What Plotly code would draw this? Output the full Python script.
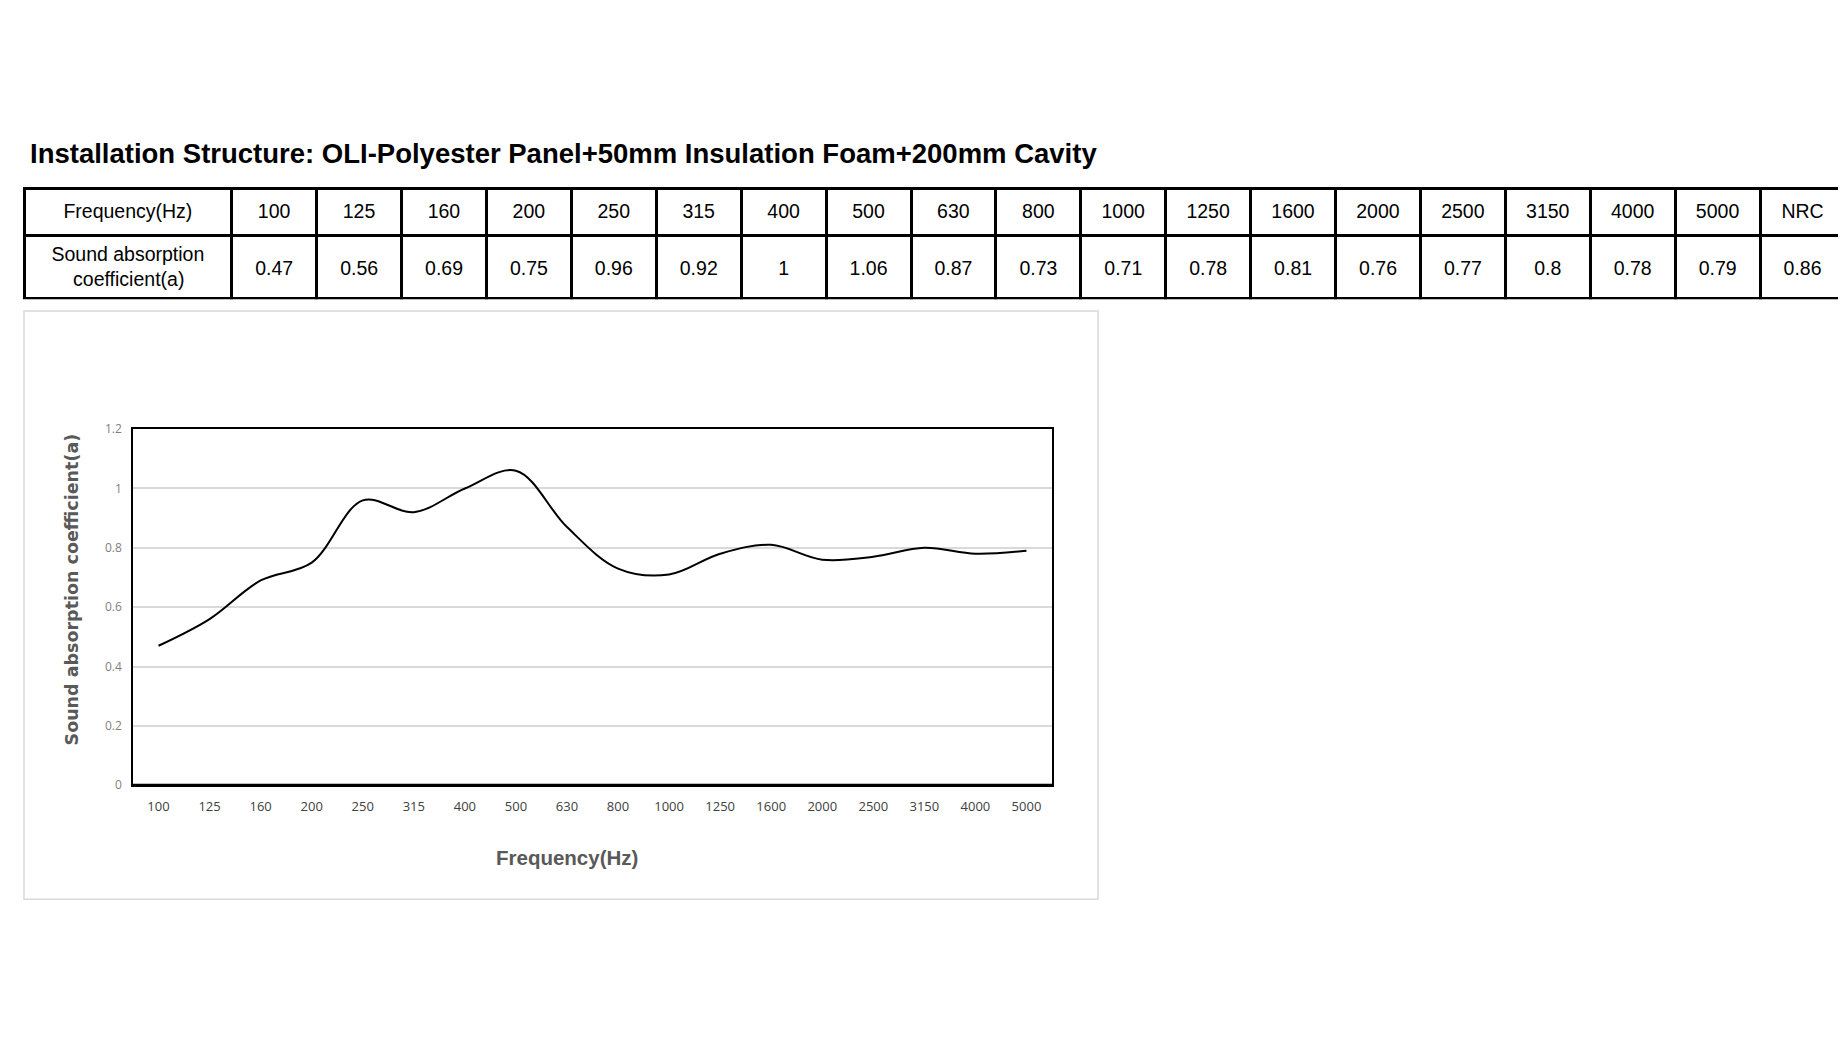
import plotly.graph_objects as go

W, H = 1846, 1038
OFF = 8  # default page margin of the html body

title_text = "Installation Structure: OLI-Polyester Panel+50mm Insulation Foam+200mm Cavity"
freqs = ["100", "125", "160", "200", "250", "315", "400", "500", "630", "800",
         "1000", "1250", "1600", "2000", "2500", "3150", "4000", "5000"]
alpha = [0.47, 0.56, 0.69, 0.75, 0.96, 0.92, 1, 1.06, 0.87, 0.73,
         0.71, 0.78, 0.81, 0.76, 0.77, 0.8, 0.78, 0.79]
nrc = 0.86
row1_label = "Frequency(Hz)"
row2_label = "Sound absorption<br>\u00a0\u00a0\u00a0\u00a0coefficient(a)"
y_ticks = [0, 0.2, 0.4, 0.6, 0.8, 1, 1.2]
y_tick_text = ["0", "0.2", "0.4", "0.6", "0.8", "1", "1.2"]
x_title = "Frequency(Hz)"
y_title = "Sound absorption coefficient(a)"

FS = 19.5           # table text size
HEAD_SPACER = 9.8   # base size that sets a small leading line in the header
CELL_SPACER = 14.6  # base size that sets a small leading line in the value row


def px(x):
    return (x - OFF) / W


def py(y):
    return 1 - (y - OFF) / H


def centred(s):
    return "<span style='color:white'>.</span><br><span style='font-size:%gpx'>%s</span>" % (FS, s)


header_vals = [centred(v) for v in [row1_label] + freqs + ["NRC"]]
cell_vals = [[row2_label]] + [[centred(f"{v:g}")] for v in alpha] + [[centred(f"{nrc:g}")]]
ncol = len(header_vals)

fig = go.Figure()

fig.add_trace(go.Table(
    domain=dict(x=[px(24), px(1845)], y=[py(295), py(182)]),
    columnwidth=[207] + [84.6] * (ncol - 1),
    header=dict(
        values=header_vals,
        height=47,
        align="center",
        line=dict(color="black", width=3),
        fill=dict(color="white"),
        font=dict(family="Liberation Sans, Arial", size=[HEAD_SPACER] * ncol, color="black"),
    ),
    cells=dict(
        values=cell_vals,
        height=63,
        align="center",
        line=dict(color="black", width=3),
        fill=dict(color="white"),
        font=dict(family="Liberation Sans, Arial", size=[FS] + [CELL_SPACER] * (ncol - 1), color="black"),
    ),
))

fig.add_trace(go.Scatter(
    x=freqs, y=alpha,
    mode="lines",
    line=dict(color="black", width=2, shape="spline", smoothing=1),
    hoverinfo="x+y",
    showlegend=False,
))

fig.update_layout(
    width=W, height=H,
    margin=dict(l=0, r=0, t=0, b=0),
    paper_bgcolor="white",
    plot_bgcolor="white",
    showlegend=False,
    xaxis=dict(
        domain=[px(133), px(1052)],
        type="category",
        range=[-0.5, 17.5],
        showgrid=False,
        showline=True, linecolor="black", linewidth=1.5, mirror=True,
        ticks="", ticklen=0,
        ticklabelstandoff=8,
        tickfont=dict(family="Open Sans, Liberation Sans", size=13, color="#404040"),
        zeroline=False,
    ),
    yaxis=dict(
        domain=[py(789), py(427)],
        range=[0, 1.2],
        tickvals=y_ticks, ticktext=y_tick_text,
        showgrid=True, gridcolor="#d9d9d9", gridwidth=1.5,
        showline=True, linecolor="black", linewidth=1.5, mirror=True,
        ticks="outside", ticklen=7, tickcolor="rgba(0,0,0,0)",
        tickfont=dict(family="Open Sans, Liberation Sans", size=12, color="#7f7f7f"),
        zeroline=False,
    ),
    annotations=[
        dict(text="<b>" + title_text + "</b>", x=px(28), y=py(147), xref="paper", yref="paper",
             xanchor="left", yanchor="middle", showarrow=False,
             font=dict(family="Liberation Sans, Arial", size=27.5, color="black")),
        dict(text="<b>" + x_title + "</b>", x=px(567), y=py(862), xref="paper", yref="paper",
             xanchor="center", yanchor="middle", showarrow=False,
             font=dict(family="Liberation Sans, Arial", size=20.5, color="#595959")),
        dict(text="<b>" + y_title + "</b>", x=px(72), y=py(590), xref="paper", yref="paper",
             xanchor="center", yanchor="middle", showarrow=False, textangle=-90,
             font=dict(family="DejaVu Sans, Verdana", size=17.5, color="#595959")),
    ],
    shapes=[
        dict(type="rect", xref="paper", yref="paper",
             x0=px(24), x1=px(1098), y0=py(905), y1=py(307),
             line=dict(color="#d9d9d9", width=1.5), fillcolor="rgba(0,0,0,0)", layer="below"),
        dict(type="line", xref="paper", yref="paper",
             x0=px(133), x1=px(1052), y0=py(789), y1=py(789),
             line=dict(color="black", width=3)),
    ],
)

fig.write_html("out.html")
